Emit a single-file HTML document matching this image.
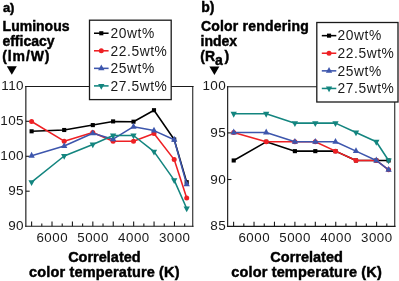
<!DOCTYPE html>
<html><head><meta charset="utf-8"><style>html,body{margin:0;padding:0;background:#fff;width:399px;height:281px;overflow:hidden;position:relative}</style></head>
<body>
<svg width="399" height="281" viewBox="0 0 399 281" style="position:absolute;left:0;top:0;will-change:transform;font-family:'Liberation Sans', sans-serif">
<rect width="399" height="281" fill="#fff"/>
<line x1="25.150000000000002" y1="86.5" x2="193.55" y2="86.5" stroke="#1a1a1a" stroke-width="1.05"/>
<line x1="25.150000000000002" y1="226.2" x2="193.55" y2="226.2" stroke="#1a1a1a" stroke-width="1.15"/>
<line x1="25.85" y1="86.0" x2="25.85" y2="226.75" stroke="#1a1a1a" stroke-width="1.15"/>
<line x1="192.75" y1="86.0" x2="192.75" y2="226.75" stroke="#1a1a1a" stroke-width="1.05"/>
<line x1="25.85" y1="121.3" x2="29.65" y2="121.3" stroke="#1a1a1a" stroke-width="1.1"/>
<line x1="25.85" y1="156.3" x2="29.65" y2="156.3" stroke="#1a1a1a" stroke-width="1.1"/>
<line x1="25.85" y1="191.2" x2="29.65" y2="191.2" stroke="#1a1a1a" stroke-width="1.1"/>
<line x1="31.60" y1="226.2" x2="31.60" y2="221.60" stroke="#1a1a1a" stroke-width="1.1"/>
<line x1="41.80" y1="226.2" x2="41.80" y2="223.50" stroke="#1a1a1a" stroke-width="1.1"/>
<line x1="52.01" y1="226.2" x2="52.01" y2="221.60" stroke="#1a1a1a" stroke-width="1.1"/>
<line x1="62.22" y1="226.2" x2="62.22" y2="223.50" stroke="#1a1a1a" stroke-width="1.1"/>
<line x1="72.42" y1="226.2" x2="72.42" y2="221.60" stroke="#1a1a1a" stroke-width="1.1"/>
<line x1="82.62" y1="226.2" x2="82.62" y2="223.50" stroke="#1a1a1a" stroke-width="1.1"/>
<line x1="92.83" y1="226.2" x2="92.83" y2="221.60" stroke="#1a1a1a" stroke-width="1.1"/>
<line x1="103.03" y1="226.2" x2="103.03" y2="223.50" stroke="#1a1a1a" stroke-width="1.1"/>
<line x1="113.24" y1="226.2" x2="113.24" y2="221.60" stroke="#1a1a1a" stroke-width="1.1"/>
<line x1="123.44" y1="226.2" x2="123.44" y2="223.50" stroke="#1a1a1a" stroke-width="1.1"/>
<line x1="133.65" y1="226.2" x2="133.65" y2="221.60" stroke="#1a1a1a" stroke-width="1.1"/>
<line x1="143.85" y1="226.2" x2="143.85" y2="223.50" stroke="#1a1a1a" stroke-width="1.1"/>
<line x1="154.06" y1="226.2" x2="154.06" y2="221.60" stroke="#1a1a1a" stroke-width="1.1"/>
<line x1="164.26" y1="226.2" x2="164.26" y2="223.50" stroke="#1a1a1a" stroke-width="1.1"/>
<line x1="174.47" y1="226.2" x2="174.47" y2="221.60" stroke="#1a1a1a" stroke-width="1.1"/>
<line x1="184.67" y1="226.2" x2="184.67" y2="223.50" stroke="#1a1a1a" stroke-width="1.1"/>
<text x="24.00" y="89.9" text-anchor="end" font-size="13.5" letter-spacing="0.4" fill="#1a1a1a">110</text>
<text x="24.00" y="124.9" text-anchor="end" font-size="13.5" letter-spacing="0.4" fill="#1a1a1a">105</text>
<text x="24.00" y="159.9" text-anchor="end" font-size="13.5" letter-spacing="0.4" fill="#1a1a1a">100</text>
<text x="24.00" y="194.9" text-anchor="end" font-size="13.5" letter-spacing="0.4" fill="#1a1a1a">95</text>
<text x="24.00" y="229.9" text-anchor="end" font-size="13.5" letter-spacing="0.4" fill="#1a1a1a">90</text>
<text x="52.26" y="241.6" text-anchor="middle" font-size="13.3" letter-spacing="0.5" fill="#1a1a1a">6000</text>
<text x="93.08" y="241.6" text-anchor="middle" font-size="13.3" letter-spacing="0.5" fill="#1a1a1a">5000</text>
<text x="133.90" y="241.6" text-anchor="middle" font-size="13.3" letter-spacing="0.5" fill="#1a1a1a">4000</text>
<text x="174.72" y="241.6" text-anchor="middle" font-size="13.3" letter-spacing="0.5" fill="#1a1a1a">3000</text>
<line x1="226.95000000000002" y1="86.7" x2="395.55" y2="86.7" stroke="#1a1a1a" stroke-width="1.05"/>
<line x1="226.95000000000002" y1="226.3" x2="395.55" y2="226.3" stroke="#1a1a1a" stroke-width="1.15"/>
<line x1="227.65" y1="86.2" x2="227.65" y2="226.85000000000002" stroke="#1a1a1a" stroke-width="1.15"/>
<line x1="394.75" y1="86.2" x2="394.75" y2="226.85000000000002" stroke="#1a1a1a" stroke-width="1.05"/>
<line x1="227.65" y1="132.9" x2="231.45" y2="132.9" stroke="#1a1a1a" stroke-width="1.1"/>
<line x1="227.65" y1="179.5" x2="231.45" y2="179.5" stroke="#1a1a1a" stroke-width="1.1"/>
<line x1="233.60" y1="226.3" x2="233.60" y2="221.70" stroke="#1a1a1a" stroke-width="1.1"/>
<line x1="243.81" y1="226.3" x2="243.81" y2="223.60" stroke="#1a1a1a" stroke-width="1.1"/>
<line x1="254.03" y1="226.3" x2="254.03" y2="221.70" stroke="#1a1a1a" stroke-width="1.1"/>
<line x1="264.25" y1="226.3" x2="264.25" y2="223.60" stroke="#1a1a1a" stroke-width="1.1"/>
<line x1="274.46" y1="226.3" x2="274.46" y2="221.70" stroke="#1a1a1a" stroke-width="1.1"/>
<line x1="284.68" y1="226.3" x2="284.68" y2="223.60" stroke="#1a1a1a" stroke-width="1.1"/>
<line x1="294.89" y1="226.3" x2="294.89" y2="221.70" stroke="#1a1a1a" stroke-width="1.1"/>
<line x1="305.11" y1="226.3" x2="305.11" y2="223.60" stroke="#1a1a1a" stroke-width="1.1"/>
<line x1="315.32" y1="226.3" x2="315.32" y2="221.70" stroke="#1a1a1a" stroke-width="1.1"/>
<line x1="325.53" y1="226.3" x2="325.53" y2="223.60" stroke="#1a1a1a" stroke-width="1.1"/>
<line x1="335.75" y1="226.3" x2="335.75" y2="221.70" stroke="#1a1a1a" stroke-width="1.1"/>
<line x1="345.96" y1="226.3" x2="345.96" y2="223.60" stroke="#1a1a1a" stroke-width="1.1"/>
<line x1="356.18" y1="226.3" x2="356.18" y2="221.70" stroke="#1a1a1a" stroke-width="1.1"/>
<line x1="366.39" y1="226.3" x2="366.39" y2="223.60" stroke="#1a1a1a" stroke-width="1.1"/>
<line x1="376.61" y1="226.3" x2="376.61" y2="221.70" stroke="#1a1a1a" stroke-width="1.1"/>
<line x1="386.82" y1="226.3" x2="386.82" y2="223.60" stroke="#1a1a1a" stroke-width="1.1"/>
<text x="226.20" y="89.9" text-anchor="end" font-size="13.5" letter-spacing="0.4" fill="#1a1a1a">100</text>
<text x="226.20" y="136.9" text-anchor="end" font-size="13.5" letter-spacing="0.4" fill="#1a1a1a">95</text>
<text x="226.20" y="183.5" text-anchor="end" font-size="13.5" letter-spacing="0.4" fill="#1a1a1a">90</text>
<text x="226.20" y="229.9" text-anchor="end" font-size="13.5" letter-spacing="0.4" fill="#1a1a1a">85</text>
<text x="254.28" y="241.6" text-anchor="middle" font-size="13.3" letter-spacing="0.5" fill="#1a1a1a">6000</text>
<text x="295.14" y="241.6" text-anchor="middle" font-size="13.3" letter-spacing="0.5" fill="#1a1a1a">5000</text>
<text x="336.00" y="241.6" text-anchor="middle" font-size="13.3" letter-spacing="0.5" fill="#1a1a1a">4000</text>
<text x="376.86" y="241.6" text-anchor="middle" font-size="13.3" letter-spacing="0.5" fill="#1a1a1a">3000</text>
<polyline points="31.60,131.30 64.20,130.00 92.80,125.10 113.10,121.40 133.50,121.70 154.00,110.20 174.20,139.50 186.70,182.20" fill="none" stroke="#000" stroke-width="1.55" stroke-linejoin="round"/>
<rect x="29.55" y="129.25" width="4.1" height="4.1" fill="#000"/>
<rect x="62.15" y="127.95" width="4.1" height="4.1" fill="#000"/>
<rect x="90.75" y="123.05" width="4.1" height="4.1" fill="#000"/>
<rect x="111.05" y="119.35" width="4.1" height="4.1" fill="#000"/>
<rect x="131.45" y="119.65" width="4.1" height="4.1" fill="#000"/>
<rect x="151.95" y="108.15" width="4.1" height="4.1" fill="#000"/>
<rect x="172.15" y="137.45" width="4.1" height="4.1" fill="#000"/>
<rect x="184.65" y="180.15" width="4.1" height="4.1" fill="#000"/>
<polyline points="31.60,121.50 64.20,141.20 92.80,132.50 113.10,141.30 133.50,141.30 154.00,133.50 174.20,159.60 186.70,197.90" fill="none" stroke="#ee2024" stroke-width="1.55" stroke-linejoin="round"/>
<circle cx="31.60" cy="121.50" r="2.5" fill="#ee2024"/>
<circle cx="64.20" cy="141.20" r="2.5" fill="#ee2024"/>
<circle cx="92.80" cy="132.50" r="2.5" fill="#ee2024"/>
<circle cx="113.10" cy="141.30" r="2.5" fill="#ee2024"/>
<circle cx="133.50" cy="141.30" r="2.5" fill="#ee2024"/>
<circle cx="154.00" cy="133.50" r="2.5" fill="#ee2024"/>
<circle cx="174.20" cy="159.60" r="2.5" fill="#ee2024"/>
<circle cx="186.70" cy="197.90" r="2.5" fill="#ee2024"/>
<polyline points="31.60,155.70 64.20,146.00 92.80,133.30 113.10,139.20 133.50,126.70 154.00,130.60 174.20,139.70 186.70,184.20" fill="none" stroke="#3d56ad" stroke-width="1.55" stroke-linejoin="round"/>
<polygon points="31.60,151.83 28.45,157.63 34.75,157.63" fill="#3d56ad"/>
<polygon points="64.20,142.13 61.05,147.93 67.35,147.93" fill="#3d56ad"/>
<polygon points="92.80,129.43 89.65,135.23 95.95,135.23" fill="#3d56ad"/>
<polygon points="113.10,135.33 109.95,141.13 116.25,141.13" fill="#3d56ad"/>
<polygon points="133.50,122.83 130.35,128.63 136.65,128.63" fill="#3d56ad"/>
<polygon points="154.00,126.73 150.85,132.53 157.15,132.53" fill="#3d56ad"/>
<polygon points="174.20,135.83 171.05,141.63 177.35,141.63" fill="#3d56ad"/>
<polygon points="186.70,180.33 183.55,186.13 189.85,186.13" fill="#3d56ad"/>
<polyline points="31.60,182.10 64.20,156.00 92.80,144.50 113.10,135.50 133.50,135.50 154.00,151.60 174.20,180.10 186.70,208.50" fill="none" stroke="#13857f" stroke-width="1.55" stroke-linejoin="round"/>
<polygon points="31.60,185.97 28.45,180.17 34.75,180.17" fill="#13857f"/>
<polygon points="64.20,159.87 61.05,154.07 67.35,154.07" fill="#13857f"/>
<polygon points="92.80,148.37 89.65,142.57 95.95,142.57" fill="#13857f"/>
<polygon points="113.10,139.37 109.95,133.57 116.25,133.57" fill="#13857f"/>
<polygon points="133.50,139.37 130.35,133.57 136.65,133.57" fill="#13857f"/>
<polygon points="154.00,155.47 150.85,149.67 157.15,149.67" fill="#13857f"/>
<polygon points="174.20,183.97 171.05,178.17 177.35,178.17" fill="#13857f"/>
<polygon points="186.70,212.37 183.55,206.57 189.85,206.57" fill="#13857f"/>
<polyline points="233.70,160.47 266.20,141.80 294.90,151.14 315.30,151.14 335.50,151.14 356.00,160.47 376.30,160.47 388.60,160.47" fill="none" stroke="#000" stroke-width="1.55" stroke-linejoin="round"/>
<rect x="231.65" y="158.42" width="4.1" height="4.1" fill="#000"/>
<rect x="264.15" y="139.75" width="4.1" height="4.1" fill="#000"/>
<rect x="292.85" y="149.09" width="4.1" height="4.1" fill="#000"/>
<rect x="313.25" y="149.09" width="4.1" height="4.1" fill="#000"/>
<rect x="333.45" y="149.09" width="4.1" height="4.1" fill="#000"/>
<rect x="353.95" y="158.42" width="4.1" height="4.1" fill="#000"/>
<rect x="374.25" y="158.42" width="4.1" height="4.1" fill="#000"/>
<rect x="386.55" y="158.42" width="4.1" height="4.1" fill="#000"/>
<polyline points="233.70,132.47 266.20,141.80 294.90,141.80 315.30,141.80 335.50,151.14 356.00,160.47 376.30,160.47 388.60,169.80" fill="none" stroke="#ee2024" stroke-width="1.55" stroke-linejoin="round"/>
<circle cx="233.70" cy="132.47" r="2.5" fill="#ee2024"/>
<circle cx="266.20" cy="141.80" r="2.5" fill="#ee2024"/>
<circle cx="294.90" cy="141.80" r="2.5" fill="#ee2024"/>
<circle cx="315.30" cy="141.80" r="2.5" fill="#ee2024"/>
<circle cx="335.50" cy="151.14" r="2.5" fill="#ee2024"/>
<circle cx="356.00" cy="160.47" r="2.5" fill="#ee2024"/>
<circle cx="376.30" cy="160.47" r="2.5" fill="#ee2024"/>
<circle cx="388.60" cy="169.80" r="2.5" fill="#ee2024"/>
<polyline points="233.70,132.47 266.20,132.47 294.90,141.80 315.30,141.80 335.50,141.80 356.00,151.14 376.30,160.47 388.60,169.80" fill="none" stroke="#3d56ad" stroke-width="1.55" stroke-linejoin="round"/>
<polygon points="233.70,128.60 230.55,134.40 236.85,134.40" fill="#3d56ad"/>
<polygon points="266.20,128.60 263.05,134.40 269.35,134.40" fill="#3d56ad"/>
<polygon points="294.90,137.94 291.75,143.74 298.05,143.74" fill="#3d56ad"/>
<polygon points="315.30,137.94 312.15,143.74 318.45,143.74" fill="#3d56ad"/>
<polygon points="335.50,137.94 332.35,143.74 338.65,143.74" fill="#3d56ad"/>
<polygon points="356.00,147.27 352.85,153.07 359.15,153.07" fill="#3d56ad"/>
<polygon points="376.30,156.60 373.15,162.40 379.45,162.40" fill="#3d56ad"/>
<polygon points="388.60,165.94 385.45,171.74 391.75,171.74" fill="#3d56ad"/>
<polyline points="233.70,113.80 266.20,113.80 294.90,123.14 315.30,123.14 335.50,123.14 356.00,132.47 376.30,141.80 388.60,160.47" fill="none" stroke="#13857f" stroke-width="1.55" stroke-linejoin="round"/>
<polygon points="233.70,117.67 230.55,111.87 236.85,111.87" fill="#13857f"/>
<polygon points="266.20,117.67 263.05,111.87 269.35,111.87" fill="#13857f"/>
<polygon points="294.90,127.00 291.75,121.20 298.05,121.20" fill="#13857f"/>
<polygon points="315.30,127.00 312.15,121.20 318.45,121.20" fill="#13857f"/>
<polygon points="335.50,127.00 332.35,121.20 338.65,121.20" fill="#13857f"/>
<polygon points="356.00,136.34 352.85,130.54 359.15,130.54" fill="#13857f"/>
<polygon points="376.30,145.67 373.15,139.87 379.45,139.87" fill="#13857f"/>
<polygon points="388.60,164.34 385.45,158.54 391.75,158.54" fill="#13857f"/>
<rect x="89.5" y="20.2" width="81.70" height="79.40" fill="#fff" stroke="#1a1a1a" stroke-width="1.3"/>
<line x1="94.0" y1="33.25" x2="108.6" y2="33.25" stroke="#000" stroke-width="1.55"/>
<rect x="99.25" y="31.20" width="4.1" height="4.1" fill="#000"/>
<text x="110.6" y="38.05" font-size="13.8" letter-spacing="0.55" fill="#1a1a1a">20wt%</text>
<line x1="94.0" y1="50.8" x2="108.6" y2="50.8" stroke="#ee2024" stroke-width="1.55"/>
<circle cx="101.30" cy="50.80" r="2.5" fill="#ee2024"/>
<text x="110.6" y="55.60" font-size="13.8" letter-spacing="0.55" fill="#1a1a1a">22.5wt%</text>
<line x1="94.0" y1="68.35" x2="108.6" y2="68.35" stroke="#3d56ad" stroke-width="1.55"/>
<polygon points="101.30,64.48 98.15,70.28 104.45,70.28" fill="#3d56ad"/>
<text x="110.6" y="73.15" font-size="13.8" letter-spacing="0.55" fill="#1a1a1a">25wt%</text>
<line x1="94.0" y1="85.9" x2="108.6" y2="85.9" stroke="#13857f" stroke-width="1.55"/>
<polygon points="101.30,89.77 98.15,83.97 104.45,83.97" fill="#13857f"/>
<text x="110.6" y="90.70" font-size="13.8" letter-spacing="0.55" fill="#1a1a1a">27.5wt%</text>
<rect x="316.8" y="22.5" width="81.20" height="79.50" fill="#fff" stroke="#1a1a1a" stroke-width="1.3"/>
<line x1="321.8" y1="35.65" x2="336.3" y2="35.65" stroke="#000" stroke-width="1.55"/>
<rect x="327.00" y="33.60" width="4.1" height="4.1" fill="#000"/>
<text x="337.6" y="40.45" font-size="13.8" letter-spacing="0.55" fill="#1a1a1a">20wt%</text>
<line x1="321.8" y1="53.25" x2="336.3" y2="53.25" stroke="#ee2024" stroke-width="1.55"/>
<circle cx="329.05" cy="53.25" r="2.5" fill="#ee2024"/>
<text x="337.6" y="58.05" font-size="13.8" letter-spacing="0.55" fill="#1a1a1a">22.5wt%</text>
<line x1="321.8" y1="70.85" x2="336.3" y2="70.85" stroke="#3d56ad" stroke-width="1.55"/>
<polygon points="329.05,66.98 325.90,72.78 332.20,72.78" fill="#3d56ad"/>
<text x="337.6" y="75.65" font-size="13.8" letter-spacing="0.55" fill="#1a1a1a">25wt%</text>
<line x1="321.8" y1="88.45" x2="336.3" y2="88.45" stroke="#13857f" stroke-width="1.55"/>
<polygon points="329.05,92.32 325.90,86.52 332.20,86.52" fill="#13857f"/>
<text x="337.6" y="93.25" font-size="13.8" letter-spacing="0.55" fill="#1a1a1a">27.5wt%</text>
<text x="2.9" y="11.8" font-size="13" text-anchor="start" font-weight="bold" fill="#000" stroke="#000" stroke-width="0.45">a)</text>
<text x="2.6" y="31.4" font-size="14" text-anchor="start" font-weight="bold" fill="#000" stroke="#000" stroke-width="0.45">Luminous</text>
<text x="2.4" y="46.0" font-size="14" text-anchor="start" font-weight="bold" fill="#000" stroke="#000" stroke-width="0.45">efficacy</text>
<text x="2.2" y="61.0" font-size="14" letter-spacing="0.9" text-anchor="start" font-weight="bold" fill="#000" stroke="#000" stroke-width="0.45">(lm/W)</text>
<text x="201.2" y="12" font-size="14" text-anchor="start" font-weight="bold" fill="#000" stroke="#000" stroke-width="0.45">b)</text>
<text x="200.9" y="31.4" font-size="14" letter-spacing="0.2" text-anchor="start" font-weight="bold" fill="#000" stroke="#000" stroke-width="0.45">Color rendering</text>
<text x="200.6" y="46.0" font-size="14" text-anchor="start" font-weight="bold" fill="#000" stroke="#000" stroke-width="0.45">index</text>
<text x="200.3" y="61.0" font-size="14" font-weight="bold" fill="#000" stroke="#000" stroke-width="0.45">(R<tspan font-size="14" font-weight="bold" dy="3.9">a</tspan><tspan dy="-3.9" dx="1.6">)</tspan></text>
<polygon points="6.8,66.2 16.8,66.2 11.8,74.8" fill="#000"/>
<polygon points="209.4,66.4 219.4,66.4 214.4,75" fill="#000"/>
<text x="104.4" y="262" font-size="14.5" text-anchor="middle" font-weight="bold" fill="#000" stroke="#000" stroke-width="0.45">Correlated</text>
<text x="104.4" y="277" font-size="14.5" letter-spacing="0.15" text-anchor="middle" font-weight="bold" fill="#000" stroke="#000" stroke-width="0.45">color temperature (K)</text>
<text x="306.6" y="262" font-size="14.5" text-anchor="middle" font-weight="bold" fill="#000" stroke="#000" stroke-width="0.45">Correlated</text>
<text x="306.6" y="277" font-size="14.5" letter-spacing="0.15" text-anchor="middle" font-weight="bold" fill="#000" stroke="#000" stroke-width="0.45">color temperature (K)</text>
</svg>
</body></html>
